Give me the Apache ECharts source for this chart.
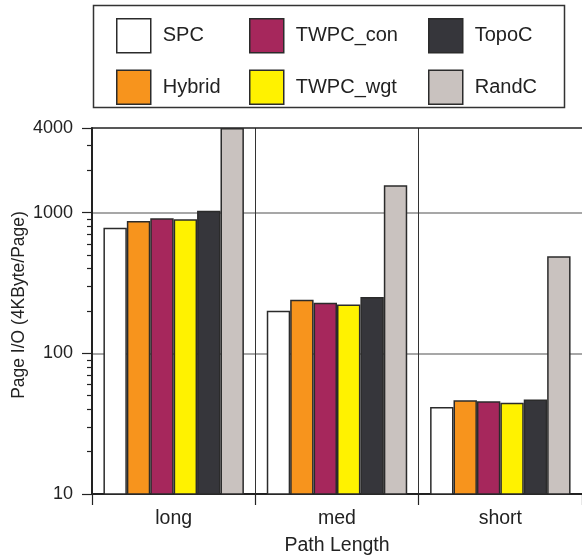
<!DOCTYPE html>
<html>
<head>
<meta charset="utf-8">
<script src="https://cdn.jsdelivr.net/npm/echarts@6/dist/echarts.min.js"></script>
<style>
  html, body { margin: 0; padding: 0; background: #fff; }
  #chart { width: 582px; height: 557px; }
</style>
</head>
<body>
<div id="chart"></div>
<script>
// Page I/O per path length class, log scale
const categories = ['long', 'med', 'short'];
const seriesNames = ['SPC', 'Hybrid', 'TWPC_con', 'TWPC_wgt', 'TopoC', 'RandC'];
const spc     = [782, 201, 41.6];
const hybrid  = [873, 240, 46.4];
const twpcCon = [912, 229, 45.7];
const twpcWgt = [897, 222, 44.5];
const topoC   = [1033, 252, 46.9];
const randC   = [4000, 1566, 490];
const yLabels = [10, 100, 1000, 4000];
const yMinorTicks = [20, 30, 40, 50, 60, 70, 80, 90, 200, 300, 400, 500, 600, 700, 800, 900, 2000, 3000];
const yGridValues = [100, 1000];

const values = [spc, hybrid, twpcCon, twpcWgt, topoC, randC];
const colors = ['#ffffff', '#f7941d', '#a6275c', '#fff200', '#36363b', '#c9c2bf'];

const FONT = '"Liberation Sans", Arial, Helvetica, sans-serif';
const INK = '#222222';
const EDGE = '#2b2b2b';

const chart = echarts.init(document.getElementById('chart'), null, { renderer: 'canvas' });

const series = seriesNames.map((name, i) => ({
  name: name,
  type: 'bar',
  data: values[i],
  barGap: 0,
  barCategoryGap: '14%',
  itemStyle: { color: colors[i], borderColor: EDGE, borderWidth: 1.5 },
  emphasis: { disabled: true }
}));

function legendColumn(names, left) {
  return {
    data: names,
    orient: 'vertical',
    left: left,
    top: 13,
    itemWidth: 34,
    itemHeight: 34,
    itemGap: 16,
    icon: 'rect',
    selectedMode: false,
    itemStyle: { borderColor: EDGE, borderWidth: 1.5 },
    textStyle: { fontFamily: FONT, fontSize: 20, color: INK, padding: [0, 0, 0, 7] }
  };
}

chart.setOption({
  animation: false,
  backgroundColor: '#ffffff',
  textStyle: { fontFamily: FONT },
  legend: [
    legendColumn(['SPC', 'Hybrid'], 111),
    legendColumn(['TWPC_con', 'TWPC_wgt'], 244),
    legendColumn(['TopoC', 'RandC'], 423)
  ],
  graphic: [{
    type: 'rect',
    shape: { x: 93.5, y: 5.5, width: 471, height: 102 },
    style: { fill: 'none', stroke: '#333333', lineWidth: 1.5 },
    silent: true
  }],
  grid: {
    left: 92, right: 0, top: 128, bottom: 63,
    containLabel: false,
    outerBoundsMode: 'none'
  },
  xAxis: [{
    type: 'category',
    data: categories,
    position: 'bottom',
    name: 'Path Length',
    nameLocation: 'middle',
    nameGap: 42,
    nameTextStyle: { fontFamily: FONT, fontSize: 19.5, color: INK },
    axisLine: { show: true, lineStyle: { color: INK, width: 2 } },
    axisTick: { show: true, length: 11, lineStyle: { color: INK, width: 1.2 } },
    axisLabel: { fontFamily: FONT, fontSize: 19.5, color: INK, margin: 15 },
    splitLine: { show: true, lineStyle: { color: '#333333', width: 1 } }
  }, {
    // frame line along the top of the plot
    type: 'category',
    data: categories,
    position: 'top',
    axisLine: { show: true, lineStyle: { color: INK, width: 1.5 } },
    axisTick: { show: false },
    axisLabel: { show: false },
    splitLine: { show: false }
  }],
  yAxis: [{
    type: 'log',
    logBase: 10,
    min: 10,
    max: 4000,
    position: 'left',
    name: 'Page I/O (4KByte/Page)',
    nameLocation: 'middle',
    nameRotate: 90,
    nameGap: 64,
    nameMoveOverlap: false,
    nameTextStyle: { fontFamily: FONT, fontSize: 17.5, color: INK, padding: [0, 0, 0, 12] },
    axisLine: { show: true, lineStyle: { color: INK, width: 2 } },
    axisTick: { show: true, length: 10, customValues: yLabels, lineStyle: { color: INK, width: 1.2 } },
    axisLabel: {
      fontFamily: FONT, fontSize: 18, color: INK, margin: 19, customValues: yLabels,
      formatter: (v) => String(Math.round(v))
    },
    splitLine: { show: false }
  }, {
    // minor ticks at 2..9 of each decade
    type: 'log',
    logBase: 10,
    min: 10,
    max: 4000,
    position: 'left',
    axisLine: { show: false },
    axisTick: { show: true, length: 5, customValues: yMinorTicks, lineStyle: { color: INK, width: 1.2 } },
    axisLabel: { show: false },
    splitLine: { show: false }
  }, {
    // horizontal grid lines at 100 and 1000
    type: 'log',
    logBase: 10,
    min: 10,
    max: 4000,
    position: 'left',
    axisLine: { show: false },
    axisTick: { show: false, customValues: yGridValues },
    axisLabel: { show: false, customValues: yGridValues },
    splitLine: { show: true, lineStyle: { color: '#8a8a8a', width: 1.5 } }
  }],
  series: series
});
</script>
</body>
</html>
